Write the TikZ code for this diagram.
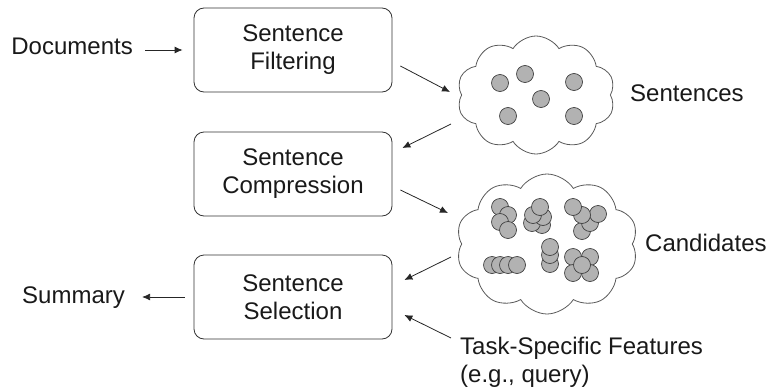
\documentclass[tikz,border=0pt]{standalone}
\usepackage{fontspec}
\setmainfont{Liberation Sans}
\usetikzlibrary{shapes.symbols,calc,arrows.meta}

\begin{document}
\begin{tikzpicture}[x=1pt,y=-1pt,font=\fontsize{24}{28}\selectfont,
		dot/.style={fill=black!30,draw=black!75,line width=0.7pt}]
	\useasboundingbox (0,0) rectangle (770,388);

	\begin{scope}[every node/.style={rectangle,rounded corners=10pt,draw=black!80,line width=0.8pt,minimum width=198pt,minimum height=84pt,align=center,text=black!90}]
		\node (F) at (293,50) {Sentence\\Filtering};
		\node (C) at (293,174) {Sentence\\Compression};
		\node (S) at (293,297) {Sentence\\Selection};
	\end{scope}

	\begin{scope}[every node/.style={cloud,cloud puffs=10,cloud puff arc=115,cloud ignores aspect,draw=black!65,line width=0.8pt,inner sep=0pt}]
		\node[minimum width=158pt,minimum height=118pt] (SC) at (536,95) {};
		\node[minimum width=182pt,minimum height=140pt] (CC) at (547,244) {};
	\end{scope}

	\begin{scope}[every node/.style={inner sep=0pt,text=black!90}]
		\node[anchor=base east] (D) at (133,54) {Documents};
		\node[anchor=base west] (SL) at (630,101) {Sentences};
		\node[anchor=base west] (CL) at (645,251) {Candidates};
		\node[anchor=base west] (Sum) at (22,303) {Summary};
		\node[anchor=north west,align=left] (T) at (460,337) {Task-Specific Features\\(e.g., query)};
	\end{scope}

	% sentences
	\foreach \x/\y in {500/83,525/74,541/99,574/82,508/116,574/116}
		\draw[dot] (\x,\y) circle (8.5pt);
	% candidates
	\foreach \x/\y in {500/207,508/215,500/222,508/230,
			542/225,532/223,543/217,533/215,540/207,
			582/231,590/223,598/214,582/215,573/207,
			492/265,500/265,508/265,517/265,
			550/264,550/255,550/247,
			573/257,590/257,573/273,590/273,582/265}
		\draw[dot] (\x,\y) circle (8.5pt);

	\begin{scope}[every edge/.style={draw=black!85,line width=0.8pt}]
		\path [-{Latex[length=8pt,width=7pt]}] ($(D.base east)+(12,-4)$) edge ($(F.west)+(-11,0)$);
		\path [-{Latex[length=8pt,width=7pt]}] ($(F.east)+(8,16)$) edge ($(SC.center)+(-86,-3)$);
		\path [-{Latex[length=8pt,width=7pt]}] ($(SC.center)+(-85,29)$) edge ($(C.east)+(10,-26)$);
		\path [-{Latex[length=8pt,width=7pt]}] ($(C.east)+(8,16)$) edge ($(CC.center)+(-99,-31)$);
		\path [-{Latex[length=8pt,width=7pt]}] ($(CC.center)+(-96,13)$) edge ($(S.east)+(12,-17)$);
		\path [-{Latex[length=8pt,width=7pt]}] ($(T.north west)+(-9,1)$) edge ($(S.east)+(12,18)$);
		\path [-{Latex[length=8pt,width=7pt]}] ($(S.west)+(-9,0)$) edge ($(Sum.base east)+(17,-6)$);
	\end{scope}
\end{tikzpicture}
\end{document}
